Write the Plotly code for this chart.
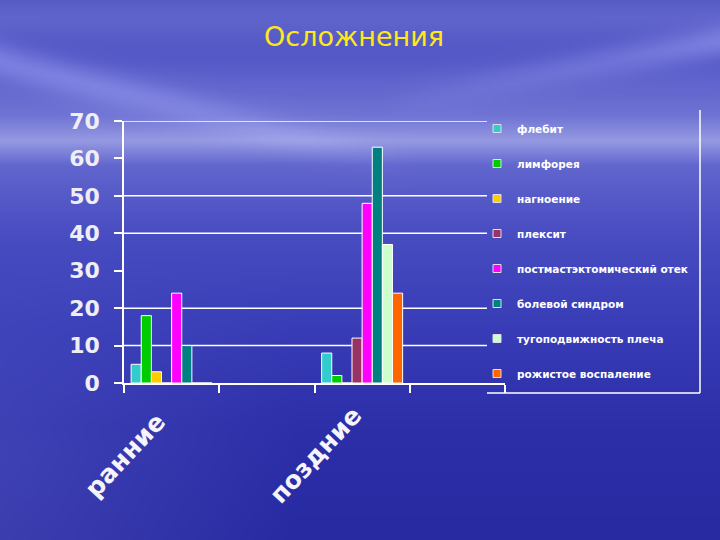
import base64, struct, zlib
import numpy as np
import plotly.graph_objects as go

# ---------------- data ----------------
categories = ["ранние", " ", "поздние", "  "]
category_labels = ["ранние", "", "поздние", ""]
series_names = ["флебит", "лимфорея", "нагноение", "плексит",
                "постмастэктомический отек", "болевой синдром",
                "тугоподвижность плеча", "рожистое воспаление"]
flebit = [5, None, 8, None]
limforea = [18, None, 2, None]
nagnoenie = [3, None, 0, None]
pleksit = [0, None, 12, None]
postmast = [24, None, 48, None]
bolevoi = [10, None, 63, None]
tugopod = [0, None, 37, None]
rozhist = [0, None, 24, None]
series_values = [flebit, limforea, nagnoenie, pleksit, postmast, bolevoi, tugopod, rozhist]
colors = ["#33CCCC", "#00CC00", "#FFCC00", "#993366",
          "#FF00FF", "#008080", "#CCFFCC", "#FF6600"]
y_ticks = [0, 10, 20, 30, 40, 50, 60, 70]
grid_values = [10, 20, 40, 50, 70]   # gridlines visible in the picture

# ---------------- background picture (sky / sea gradient) ----------------
W, H = 240, 180
ys = np.linspace(0, 540, H)
xs = np.linspace(0, 720, W)
key_y = [0, 60, 115, 140, 165, 230, 330, 430, 540]
key_c = [(80, 84, 192), (86, 90, 200), (112, 116, 212), (150, 154, 226),
         (98, 102, 206), (74, 78, 194), (56, 60, 182), (44, 47, 168), (40, 42, 162)]
base = np.stack([np.interp(ys, key_y, [c[i] for c in key_c]) for i in range(3)], axis=-1)
img = np.repeat(base[:, None, :], W, axis=1)
X, Y = np.meshgrid(xs, ys)
left = np.clip((300 - X) / 300, 0, 1) * np.clip((Y - 250) / 200, 0, 1) * 22
clouds = (np.exp(-((Y - 0.25 * X - 60) / 18) ** 2) * np.clip((420 - X) / 420, 0, 1) * 40
          + np.exp(-((Y + 0.18 * X - 170) / 16) ** 2) * np.clip((X - 380) / 340, 0, 1) * 40
          + np.exp(-((Y - 15) / 20) ** 2) * 15)
img = img + (left + clouds)[..., None] * np.array([0.9, 0.9, 0.6])
img = np.clip(img, 0, 255).astype(np.uint8)

def to_png(a):
    h, w, _ = a.shape
    raw = b"".join(b"\x00" + a[r].tobytes() for r in range(h))
    def chunk(t, d):
        c = struct.pack(">I", len(d)) + t + d
        return c + struct.pack(">I", zlib.crc32(t + d) & 0xffffffff)
    return (b"\x89PNG\r\n\x1a\n" + chunk(b"IHDR", struct.pack(">IIBBBBB", w, h, 8, 2, 0, 0, 0))
            + chunk(b"IDAT", zlib.compress(raw, 9)) + chunk(b"IEND", b""))

bg_uri = "data:image/png;base64," + base64.b64encode(to_png(img)).decode()

# ---------------- figure ----------------
L, R, T, B = 124, 215, 121, 157
PW, PH = 720 - L - R, 540 - T - B
LEG_L = (487 - L) / PW

fig = go.Figure()
for name, vals, col in zip(series_names, series_values, colors):
    fig.add_trace(go.Bar(
        x=categories, y=vals, name=name, legendgroup=name, showlegend=False,
        marker=dict(color=col, line=dict(color="white", width=1)),
    ))
for name, col in zip(series_names, colors):
    fig.add_trace(go.Scatter(
        x=[None], y=[None], name=name, legendgroup=name, mode="markers",
        marker=dict(symbol="square", size=8, color=col, line=dict(color="#DDDDEE", width=1)),
    ))

shapes = [dict(type="line", xref="paper", yref="y", x0=0, x1=LEG_L, y0=g, y1=g,
               line=dict(color="white", width=1.5), layer="below") for g in grid_values]
shapes += [
    dict(type="line", xref="paper", yref="paper",
         x0=(700 - L) / PW, x1=(700 - L) / PW, y0=(383 - 393) / PH, y1=(383 - 110) / PH,
         line=dict(color="white", width=1.5)),
    dict(type="line", xref="paper", yref="paper",
         x0=LEG_L, x1=(700 - L) / PW, y0=(383 - 393) / PH, y1=(383 - 393) / PH,
         line=dict(color="white", width=1.5)),
]

annotations = [dict(text=lab, x=cat, xref="x", y=0, yref="paper", showarrow=False,
                    xanchor="center", yanchor="middle", textangle=-47,
                    xshift=-47, yshift=-72,
                    font=dict(family="DejaVu Sans", size=25, color="#F4F4FA", weight="bold"))
               for cat, lab in zip(categories, category_labels) if lab]

fig.update_layout(
    width=720, height=540,
    margin=dict(l=L, r=R, t=T, b=B),
    paper_bgcolor="#3b3fb5", plot_bgcolor="rgba(0,0,0,0)",
    barmode="group", bargap=0.15, bargroupgap=0,
    title=dict(text="Осложнения", x=354 / 720, xanchor="center",
               y=1 - 37 / 540, yanchor="middle",
               font=dict(family="DejaVu Sans", size=27, color="#FFE81A")),
    xaxis=dict(type="category", categoryorder="array", categoryarray=categories,
               range=[-0.5, 3.5], tickson="boundaries",
               showline=True, linecolor="white", linewidth=1.5,
               ticks="outside", ticklen=8, tickcolor="white", tickwidth=1.5,
               showgrid=False, showticklabels=False),
    yaxis=dict(range=[0, 70], tickvals=y_ticks, showgrid=False,
               showline=True, linecolor="white", linewidth=1.5,
               ticks="outside", ticklen=8, tickcolor="white", tickwidth=1.5,
               ticklabelstandoff=10, zeroline=False,
               tickfont=dict(family="DejaVu Sans", size=22, color="#EEEEF4", weight="bold")),
    legend=dict(x=(477 - L) / PW, xanchor="left", y=(383 - 114) / PH, yanchor="top",
                bgcolor="rgba(0,0,0,0)", tracegroupgap=16, maxheight=500,
                font=dict(family="DejaVu Sans", size=10.5, color="white", weight="bold")),
    showlegend=True,
    annotations=annotations,
    images=[dict(source=bg_uri, xref="paper", yref="paper",
                 x=-L / PW, y=1 + T / PH, sizex=720 / PW, sizey=540 / PH,
                 xanchor="left", yanchor="top", sizing="stretch", layer="below")],
    shapes=shapes,
)

fig.write_html("out.html", config={"displayModeBar": False},
               post_script="document.body.style.margin='0';")
